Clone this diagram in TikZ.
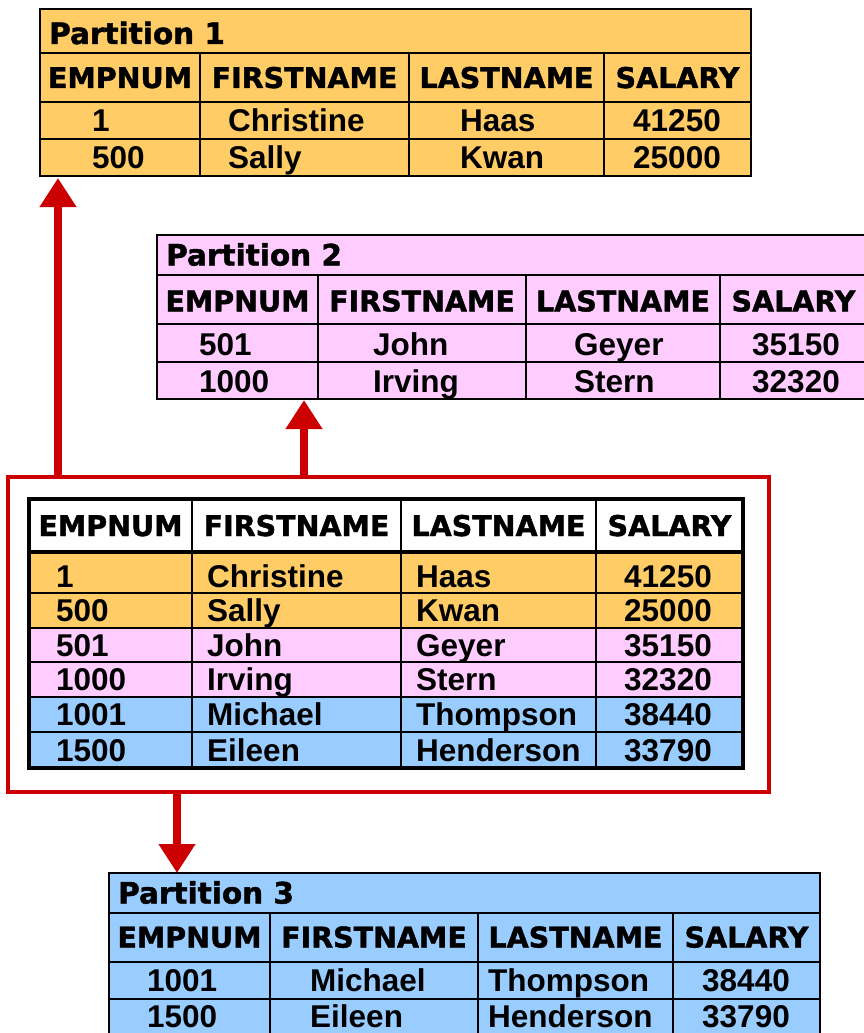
\documentclass[tikz,border=0pt]{standalone}
\usepackage{fontspec}
\usetikzlibrary{arrows.meta}
\newfontfamily\hdrfont{DejaVu Sans}[BoldFeatures={FakeBold=1.5}]
\newfontfamily\datafont{Liberation Sans}
\definecolor{orangeP}{HTML}{FFCC66}
\definecolor{pinkP}{HTML}{FFCCFF}
\definecolor{blueP}{HTML}{99CCFF}
\definecolor{redF}{HTML}{CC0000}
\tikzset{
  hd/.style={anchor=base, inner sep=0pt, font=\hdrfont\bfseries\fontsize{28.5}{30}\selectfont},
  ttl/.style={anchor=base west, inner sep=0pt, font=\hdrfont\bfseries\fontsize{29.5}{31}\selectfont},
  dt/.style={anchor=base west, inner sep=0pt, font=\datafont\bfseries\fontsize{31.5}{33}\selectfont},
  ptab/.style={draw=black, line width=2.5pt, inner sep=0pt, outer sep=0pt},
  gridline/.style={draw=black, line width=2pt},
  mtab/.style={draw=black, line width=4pt, inner sep=0pt, outer sep=0pt},
  frame/.style={draw=redF, line width=4.5pt, inner sep=0pt, outer sep=0pt},
  arr/.style={draw=redF, line width=8pt, -{Triangle[width=35pt,length=29pt]}},
}
\begin{document}
\begin{tikzpicture}[x=1pt,y=-1pt]
\useasboundingbox (0,0) rectangle (864,1033);
\clip (0,0) rectangle (864,1033);

% ---------- Partition 1 ----------
\node[ptab, fill=orangeP, minimum width=711pt, minimum height=167pt] (p1) at (395.5,92.5) {};
\foreach \y in {53,102,139} \draw[gridline] (40,\y) -- (751,\y);
\foreach \x in {200,409,604} \draw[gridline] (\x,53) -- (\x,176);
\node[ttl] (p1t) at (49,44) {Partition 1};
\foreach \x/\t [count=\i] in {120/EMPNUM,304.5/FIRSTNAME,506.5/LASTNAME,677.5/SALARY}
  \node[hd] (p1h\i) at (\x,88) {\t};
\foreach \x/\a/\b [count=\i] in {92/1/500,228/Christine/Sally,460/Haas/Kwan,633/41250/25000}{
  \node[dt] (p1a\i) at (\x,131.7) {\a};
  \node[dt] (p1b\i) at (\x,168.7) {\b};
}

% ---------- Partition 2 ----------
\node[ptab, fill=pinkP, minimum width=710pt, minimum height=164pt] (p2) at (512,317) {};
\foreach \y in {275,324,362} \draw[gridline] (157,\y) -- (867,\y);
\foreach \x in {318,526,720} \draw[gridline] (\x,275) -- (\x,399);
\node[ttl] (p2t) at (166,265.5) {Partition 2};
\foreach \x/\t [count=\i] in {237.5/EMPNUM,422/FIRSTNAME,623/LASTNAME,793.5/SALARY}
  \node[hd] (p2h\i) at (\x,311.4) {\t};
\foreach \x/\a/\b [count=\i] in {199/501/1000,373/John/Irving,574/Geyer/Stern,752/35150/32320}{
  \node[dt] (p2a\i) at (\x,355) {\a};
  \node[dt] (p2b\i) at (\x,392) {\b};
}

% ---------- Partition 3 ----------
\node[ptab, fill=blueP, minimum width=711pt, minimum height=163pt] (p3) at (464.5,954.5) {};
\foreach \y in {913,962,999} \draw[gridline] (109,\y) -- (820,\y);
\foreach \x in {270,478,673} \draw[gridline] (\x,913) -- (\x,1036);
\node[ttl] (p3t) at (118,903.5) {Partition 3};
\foreach \x/\t [count=\i] in {189.5/EMPNUM,374/FIRSTNAME,575.5/LASTNAME,746.5/SALARY}
  \node[hd] (p3h\i) at (\x,947.5) {\t};
\foreach \x/\a/\b [count=\i] in {147/1001/1500,310/Michael/Eileen,488/Thompson/Henderson,702/38440/33790}{
  \node[dt] (p3a\i) at (\x,991.2) {\a};
  \node[dt] (p3b\i) at (\x,1027.3) {\b};
}

% ---------- Red frame and full table ----------
\node[frame, minimum width=761pt, minimum height=315pt] (frame) at (388.5,634.5) {};
\node[mtab, fill=white, minimum width=714pt, minimum height=269pt] (mt) at (386,633.5) {};
\fill[orangeP] (29,552) rectangle (743,628);
\fill[pinkP] (29,628) rectangle (743,697);
\fill[blueP] (29,697) rectangle (743,768);
\foreach \y in {593,628,662,697,732} \draw[gridline] (29,\y) -- (743,\y);
\draw[black, line width=3.5pt] (29,552) -- (743,552);
\foreach \x in {192,401,596} \draw[gridline] (\x,499) -- (\x,768);
\draw[black, line width=4pt] (mt.north west) rectangle (mt.south east);
\foreach \x/\t [count=\i] in {110.5/EMPNUM,296.5/FIRSTNAME,498.5/LASTNAME,669.5/SALARY}
  \node[hd] (mh\i) at (\x,536) {\t};
\foreach \yc/\a/\b/\c/\d [count=\i] in {
  576.5/1/Christine/Haas/41250,
  610.5/500/Sally/Kwan/25000,
  645/501/John/Geyer/35150,
  679.5/1000/Irving/Stern/32320,
  714.5/1001/Michael/Thompson/38440,
  750/1500/Eileen/Henderson/33790}{
  \node[dt] (ma\i) at (56,\yc+11.2) {\a};
  \node[dt] (mb\i) at (207,\yc+11.2) {\b};
  \node[dt] (mc\i) at (416,\yc+11.2) {\c};
  \node[dt] (md\i) at (624,\yc+11.2) {\d};
}

% ---------- Arrows ----------
\coordinate (c1) at (58,0);
\coordinate (c2) at (304,0);
\coordinate (c3) at (177,0);
\draw[arr] (frame.north -| c1) -- ([yshift=-2pt]p1.south -| c1);
\draw[arr] (frame.north -| c2) -- ([yshift=-1pt]p2.south -| c2);
\draw[arr] (frame.south -| c3) -- (p3.north -| c3);
\end{tikzpicture}
\end{document}
